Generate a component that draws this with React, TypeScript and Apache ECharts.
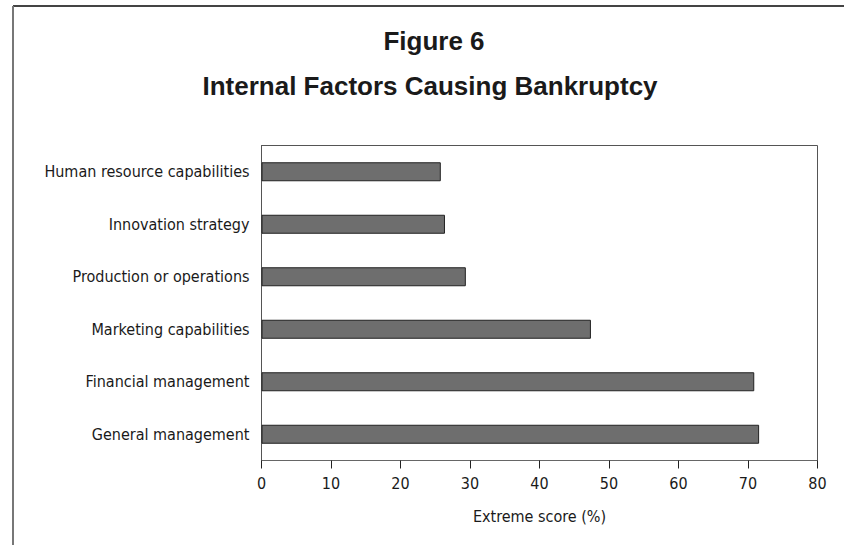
import React, { useEffect, useRef } from "react";
import * as echarts from "echarts";

const categories = [
  "Human resource capabilities",
  "Innovation strategy",
  "Production or operations",
  "Marketing capabilities",
  "Financial management",
  "General management",
];
const values = [25.8, 26.4, 29.4, 47.4, 70.9, 71.6];
const xTicks = [0, 10, 20, 30, 40, 50, 60, 70, 80];
const titleLines = ["Figure 6", "Internal Factors Causing Bankruptcy"];
const axisTitle = "Extreme score (%)";

const NARROW = "'DejaVu Sans Condensed', 'Liberation Sans Narrow', sans-serif";
const SANS = "'Liberation Sans', Arial, sans-serif";

export default function App() {
  const ref = useRef<HTMLDivElement>(null);
  useEffect(() => {
    document.body.style.margin = "0";
    const chart = echarts.init(ref.current!, undefined, { renderer: "svg" });
    chart.setOption({
      animation: false,
      backgroundColor: "#ffffff",
      graphic: [
        { type: "line", shape: { x1: 13, y1: 6, x2: 844, y2: 6 }, style: { stroke: "#444", lineWidth: 2 } },
        { type: "line", shape: { x1: 13, y1: 6, x2: 13, y2: 545 }, style: { stroke: "#777", lineWidth: 2 } },
        {
          type: "text",
          x: 434,
          y: 41,
          style: {
            text: titleLines[0],
            fontFamily: SANS,
            fontSize: 26,
            fontWeight: "bold",
            fill: "#1a1a1a",
            align: "center",
            verticalAlign: "middle",
          },
        },
        {
          type: "text",
          x: 430,
          y: 85.5,
          style: {
            text: titleLines[1],
            fontFamily: SANS,
            fontSize: 26,
            fontWeight: "bold",
            fill: "#1a1a1a",
            align: "center",
            verticalAlign: "middle",
          },
        },
      ],
      grid: {
        left: 261.5,
        right: 26.5,
        top: 145.5,
        bottom: 84.5,
        show: true,
        borderColor: "#555",
        borderWidth: 1,
      },
      xAxis: {
        type: "value",
        min: 0,
        max: 80,
        interval: 10,
        name: axisTitle,
        nameLocation: "middle",
        nameGap: 48,
        nameTextStyle: { fontFamily: NARROW, fontSize: 16, color: "#1a1a1a" },
        axisLine: { show: true, lineStyle: { color: "#666", width: 1 } },
        axisTick: { show: true, length: 8, lineStyle: { color: "#222" } },
        axisLabel: {
          fontFamily: NARROW,
          fontSize: 16,
          color: "#1a1a1a",
          margin: 15,
          formatter: (v: number) => (xTicks.includes(v) ? String(v) : ""),
        },
        splitLine: { show: false },
      },
      yAxis: {
        type: "category",
        data: categories,
        inverse: true,
        axisLine: { show: true, lineStyle: { color: "#555" } },
        axisTick: { show: false },
        axisLabel: { fontFamily: NARROW, fontSize: 16, color: "#1a1a1a", margin: 12 },
      },
      series: [
        {
          type: "bar",
          data: values,
          barWidth: 19,
          itemStyle: { color: "#6e6e6e", borderColor: "#222", borderWidth: 1 },
        },
      ],
    });
    return () => chart.dispose();
  }, []);
  return <div ref={ref} style={{ width: 844, height: 545 }} />;
}
